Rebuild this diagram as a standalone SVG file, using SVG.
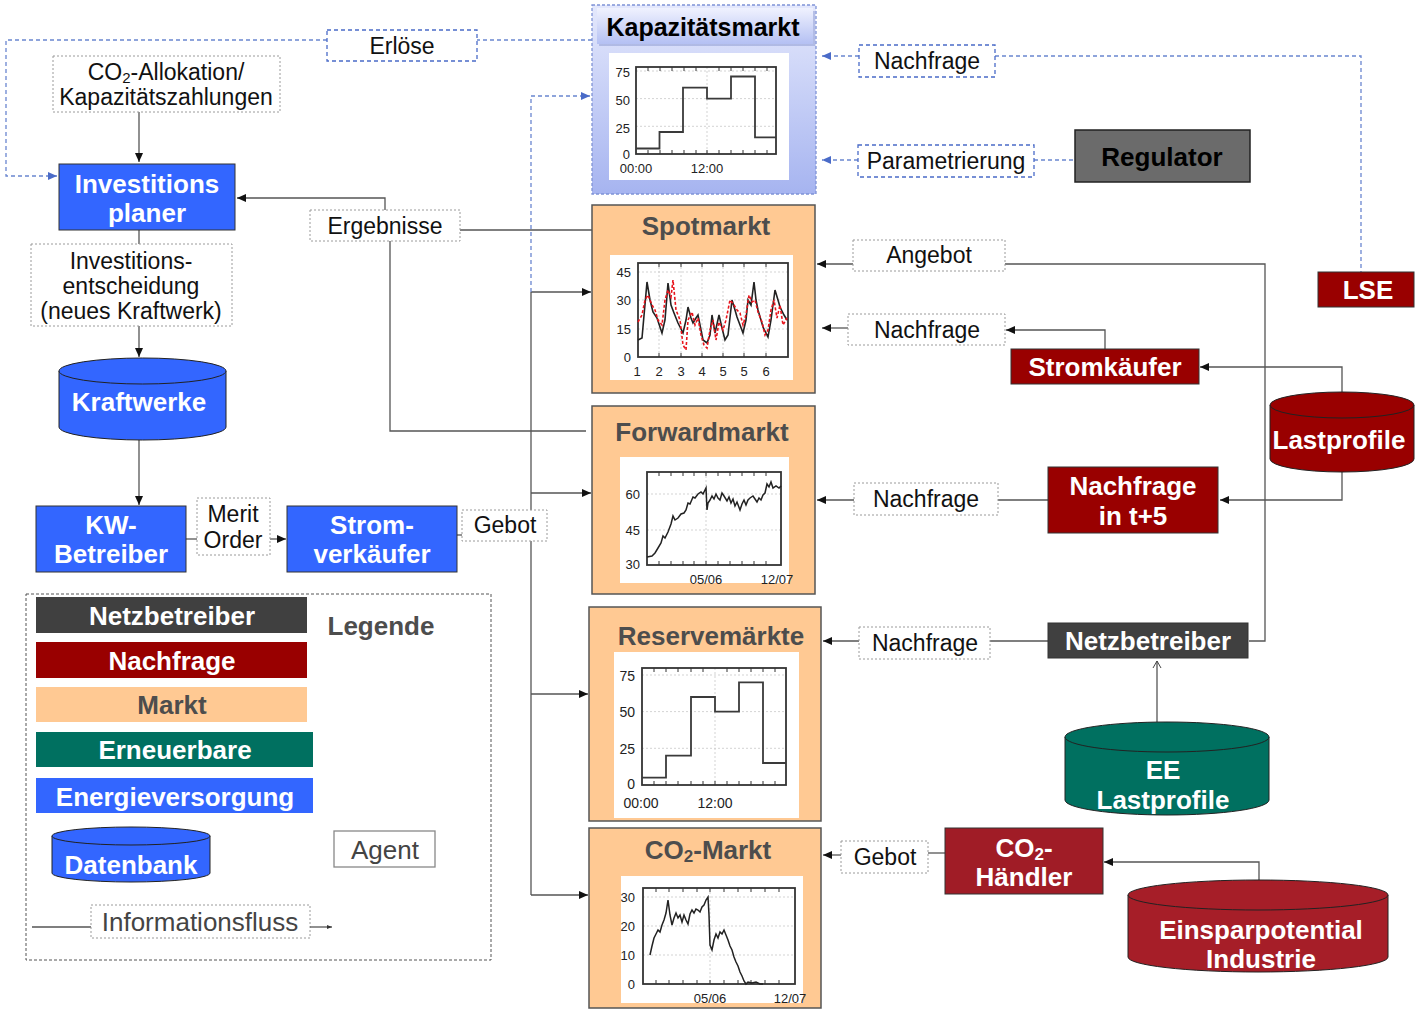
<svg xmlns="http://www.w3.org/2000/svg" width="1415" height="1012" viewBox="0 0 1415 1012">
<defs>
<style>
text{font-family:"Liberation Sans",Arial,sans-serif;text-anchor:middle;dominant-baseline:central}
.t{font-size:23px;fill:#111}
.b{font-size:26px;font-weight:bold;fill:#fff}
.mt{font-size:26px;font-weight:bold;fill:#4d4d4d}
.ax{font-size:13px;fill:#222}
.ax14{font-size:14px;fill:#222}
.lb{fill:#fff;stroke:#9a9a9a;stroke-width:1;stroke-dasharray:2 2}
.bb{fill:#fff;stroke:#4a6bc8;stroke-width:1.3;stroke-dasharray:4 3}
.node{stroke:#333;stroke-width:1}
.mk{fill:#ffc993;stroke:#555;stroke-width:1.5}
.pan{fill:#fff}
.plot{fill:none;stroke:#333;stroke-width:1.8}
.grid{fill:none;stroke:#c8c8c8;stroke-width:0.8;stroke-dasharray:2 2}
.tick{fill:none;stroke:#333;stroke-width:1}
.ln{fill:none;stroke:#3a3a3a;stroke-width:1.8}
.c{fill:none;stroke:#555;stroke-width:1.3}
.cd{fill:none;stroke:#6a86d0;stroke-width:1.3;stroke-dasharray:4 3}
</style>
<marker id="ar" markerUnits="userSpaceOnUse" markerWidth="10" markerHeight="10" refX="9" refY="5" orient="auto"><path d="M0,1 L9,5 L0,9 z" fill="#111"/></marker>
<marker id="ab" markerUnits="userSpaceOnUse" markerWidth="10" markerHeight="10" refX="9" refY="5" orient="auto"><path d="M0,1 L9,5 L0,9 z" fill="#4a6bc8"/></marker>
<marker id="ao" markerUnits="userSpaceOnUse" markerWidth="10" markerHeight="10" refX="8" refY="5" orient="auto"><path d="M1,1 L8,5 L1,9" fill="none" stroke="#444" stroke-width="1"/></marker>
<marker id="as" markerUnits="userSpaceOnUse" markerWidth="6" markerHeight="6" refX="5" refY="3" orient="auto"><path d="M0,1 L5,3 L0,5 z" fill="#333"/></marker>
<linearGradient id="kapbg" x1="0" y1="0" x2="0" y2="1"><stop offset="0" stop-color="#e4e8fc"/><stop offset="1" stop-color="#a6b4f0"/></linearGradient>
<linearGradient id="kaptitle" x1="0" y1="0" x2="0" y2="1"><stop offset="0" stop-color="#f0f2fe"/><stop offset="1" stop-color="#b4c0f3"/></linearGradient>
</defs>

<!-- connectors -->
<g id="connectors">
<path class="c" d="M139,112 V162" marker-end="url(#ar)"/>
<path class="c" d="M139,230 V244"/>
<path class="c" d="M139,326 V357" marker-end="url(#ar)"/>
<path class="c" d="M139,440 V505" marker-end="url(#ar)"/>
<path class="c" d="M186,539 H197"/>
<path class="c" d="M270,539 H286" marker-end="url(#ar)"/>
<path class="c" d="M457,535 H462"/>
<path class="c" d="M531,292 V895"/>
<path class="c" d="M531,292 H591" marker-end="url(#ar)"/>
<path class="c" d="M531,493 H591" marker-end="url(#ar)"/>
<path class="c" d="M531,694 H588" marker-end="url(#ar)"/>
<path class="c" d="M531,895 H588" marker-end="url(#ar)"/>
<path class="cd" d="M531,292 V96 H590" marker-end="url(#ab)"/>
<path class="cd" d="M592,40 H477"/>
<path class="cd" d="M327,40 H6 V176 H57" marker-end="url(#ab)"/>
<path class="c" d="M385,210 V198 H237" marker-end="url(#ar)"/>
<path class="c" d="M460,230 H592"/>
<path class="c" d="M390,241 V431 H586"/>
<path class="cd" d="M859,56 H822" marker-end="url(#ab)"/>
<path class="cd" d="M995,56 H1361 V272"/>
<path class="cd" d="M858,160 H822" marker-end="url(#ab)"/>
<path class="cd" d="M1034,160 H1075"/>
<path class="c" d="M853,264 H817" marker-end="url(#ar)"/>
<path class="c" d="M1005,264 H1265 V641 H1249"/>
<path class="c" d="M848,328 H822" marker-end="url(#ar)"/>
<path class="c" d="M1105,349 V330 H1006" marker-end="url(#ar)"/>
<path class="c" d="M1342,392 V367 H1200" marker-end="url(#ar)"/>
<path class="c" d="M1342,472 V500 H1220" marker-end="url(#ar)"/>
<path class="c" d="M1048,500 H998"/>
<path class="c" d="M854,500 H817" marker-end="url(#ar)"/>
<path class="c" d="M1048,641 H990"/>
<path class="c" d="M859,641 H823" marker-end="url(#ar)"/>
<path class="c" d="M1157,722 V661" marker-end="url(#ao)"/>
<path class="c" d="M945,853 H928"/>
<path class="c" d="M841,855 H823" marker-end="url(#ar)"/>
<path class="c" d="M1259,880 V862 H1104" marker-end="url(#ar)"/>
</g>

<!-- left side -->
<g id="erloese"><rect class="bb" x="327" y="30" width="150" height="31"/><text class="t" x="402" y="46">Erlöse</text></g>
<g id="co2alloc"><rect class="lb" x="53" y="56" width="227" height="56"/>
<text class="t" x="166" y="72">CO<tspan font-size="15" dy="5">2</tspan><tspan dy="-5">-Allokation/</tspan></text>
<text class="t" x="166" y="97">Kapazitätszahlungen</text></g>
<g id="investplaner"><rect class="node" x="59" y="164" width="176" height="66" fill="#3366ff"/>
<text class="b" x="147" y="184">Investitions</text><text class="b" x="147" y="213">planer</text></g>
<g id="ergebnisse"><rect class="lb" x="310" y="210" width="150" height="31"/><text class="t" x="385" y="226">Ergebnisse</text></g>
<g id="entscheidung"><rect class="lb" x="31" y="244" width="201" height="82"/>
<text class="t" x="131" y="261">Investitions-</text><text class="t" x="131" y="286">entscheidung</text><text class="t" x="131" y="311">(neues Kraftwerk)</text></g>
<g id="kraftwerke">
<path d="M59,371 V427 A83.5,13 0 0 0 226,427 V371" fill="#3366ff" stroke="#222" stroke-width="1"/>
<ellipse cx="142.5" cy="371" rx="83.5" ry="13" fill="#3366ff" stroke="#222" stroke-width="1"/>
<text class="b" x="139" y="402">Kraftwerke</text></g>
<g id="kwbetreiber"><rect class="node" x="36" y="506" width="150" height="66" fill="#3366ff"/>
<text class="b" x="111" y="525">KW-</text><text class="b" x="111" y="554">Betreiber</text></g>
<g id="merit"><rect class="lb" x="197" y="498" width="73" height="57"/>
<text class="t" x="233" y="514">Merit</text><text class="t" x="233" y="540">Order</text></g>
<g id="stromverkaeufer"><rect class="node" x="287" y="506" width="170" height="66" fill="#3366ff"/>
<text class="b" x="372" y="525">Strom-</text><text class="b" x="372" y="554">verkäufer</text></g>
<g id="gebot1"><rect class="lb" x="462" y="510" width="85" height="31"/><text class="t" x="505" y="525">Gebot</text></g>

<!-- Kapazitätsmarkt -->
<g id="kapazitaetsmarkt">
<rect x="592" y="5" width="224" height="189" fill="url(#kapbg)" stroke="#7f93d6" stroke-width="1.3" stroke-dasharray="3 2"/>
<rect x="599" y="11" width="216" height="35" fill="#8a98d0" opacity="0.5"/>
<rect x="597" y="8" width="216" height="36" fill="url(#kaptitle)"/>
<text x="703" y="27" style="font-size:25px;font-weight:bold;fill:#000">Kapazitätsmarkt</text>
<rect class="pan" x="609" y="53" width="180" height="127"/>
<path class="grid" d="M636,71 H776 M636,98.6 H776 M636,126.3 H776 M707,67 V154"/>
<path class="tick" d="M648,67 v4 M660,67 v4 M672,67 v4 M684,67 v4 M696,67 v4 M719,67 v4 M731,67 v4 M743,67 v4 M755,67 v4 M767,67 v4 M648,154 v-4 M660,154 v-4 M672,154 v-4 M684,154 v-4 M696,154 v-4 M707,154 v-4 M719,154 v-4 M731,154 v-4 M743,154 v-4 M755,154 v-4 M767,154 v-4"/>
<rect class="plot" x="636" y="67" width="140" height="87"/>
<path class="ln" d="M636,148.5 H659.5 V132 H683 V87.6 H707 V98.6 H731 V76.5 H755 V137.4 H776"/>
<text class="ax" x="630" y="72" style="text-anchor:end">75</text>
<text class="ax" x="630" y="100" style="text-anchor:end">50</text>
<text class="ax" x="630" y="128" style="text-anchor:end">25</text>
<text class="ax" x="630" y="154" style="text-anchor:end">0</text>
<text class="ax" x="636" y="168">00:00</text>
<text class="ax" x="707" y="168">12:00</text>
</g>

<!-- Spotmarkt -->
<g id="spotmarkt">
<rect class="mk" x="592" y="205" width="223" height="188"/>
<text class="mt" x="706" y="226">Spotmarkt</text>
<rect class="pan" x="610" y="255" width="183" height="125"/>
<path class="grid" d="M638,272 H788 M638,300 H788 M638,329 H788 M659,263 V357 M681,263 V357 M702,263 V357 M723,263 V357 M744,263 V357 M766,263 V357"/>
<path class="tick" d="M659,263 v4 M681,263 v4 M702,263 v4 M723,263 v4 M744,263 v4 M766,263 v4 M659,357 v-4 M681,357 v-4 M702,357 v-4 M723,357 v-4 M744,357 v-4 M766,357 v-4"/>
<rect class="plot" x="638" y="263" width="150" height="94"/>
<polyline fill="none" stroke="#222" stroke-width="1.6" points="638,340 642,338 647,282 650,300 653,312 657,318 662,333 665,320 668,283 671,305 674,313 678,323 683,333 686,320 688,307 691,318 693,323 696,318 698,315 701,330 703,340 707,343 710,335 712,315 715,333 719,315 722,328 725,340 728,335 732,300 735,310 737,317 740,325 743,333 746,320 748,300 751,305 754,282 756,300 758,310 763,327 768,337 771,320 775,290 778,300 780,307 784,315 787,320"/>
<polyline fill="none" stroke="#e8141c" stroke-width="1.6" stroke-dasharray="3 2" points="638,322 642,315 645,300 648,295 652,305 655,310 658,320 662,325 665,300 668,290 671,297 673,280 676,310 680,320 683,345 686,350 688,320 692,312 695,325 698,318 701,335 704,345 707,348 710,330 713,320 716,340 719,322 723,330 726,320 730,300 734,305 737,310 740,313 743,325 746,315 749,295 752,302 755,300 758,312 762,322 765,335 768,330 771,310 774,300 777,318 780,305 783,325 787,318"/>
<text class="ax" x="631" y="272" style="text-anchor:end">45</text>
<text class="ax" x="631" y="300" style="text-anchor:end">30</text>
<text class="ax" x="631" y="329" style="text-anchor:end">15</text>
<text class="ax" x="631" y="357" style="text-anchor:end">0</text>
<text class="ax" x="637" y="371">1</text><text class="ax" x="659" y="371">2</text><text class="ax" x="681" y="371">3</text><text class="ax" x="702" y="371">4</text><text class="ax" x="723" y="371">5</text><text class="ax" x="744" y="371">5</text><text class="ax" x="766" y="371">6</text>
</g>

<!-- Forwardmarkt -->
<g id="forwardmarkt">
<rect class="mk" x="592" y="406" width="223" height="188"/>
<text class="mt" x="702" y="432">Forwardmarkt</text>
<rect class="pan" x="620" y="457" width="169" height="126"/>
<path class="grid" d="M647,494 H781 M647,530 H781 M706,472 V565"/>
<path class="tick" d="M659,472 v4 M671,472 v4 M683,472 v4 M694,472 v4 M706,472 v4 M718,472 v4 M730,472 v4 M742,472 v4 M754,472 v4 M766,472 v4 M659,565 v-4 M671,565 v-4 M683,565 v-4 M694,565 v-4 M706,565 v-4 M718,565 v-4 M730,565 v-4 M742,565 v-4 M754,565 v-4 M766,565 v-4"/>
<rect class="plot" x="647" y="472" width="134" height="93"/>
<polyline fill="none" stroke="#222" stroke-width="1.5" points="647,557 652,556 655,553 658,548 661,543 663,536 665,538 668,532 671,524 673,516 675,520 678,518 681,514 684,513 686,510 688,503 690,504 693,497 695,498 698,494 701,492 703,494 706,488 707,510 708,503 710,500 712,496 714,499 716,494 718,498 720,500 722,493 724,496 727,501 729,497 731,503 733,499 735,506 737,502 740,510 742,504 744,500 746,505 748,500 750,498 753,496 755,499 757,502 759,498 761,500 763,495 765,493 767,484 769,487 771,482 773,488 776,486 779,488 781,486"/>
<text class="ax" x="640" y="494" style="text-anchor:end">60</text>
<text class="ax" x="640" y="530" style="text-anchor:end">45</text>
<text class="ax" x="640" y="564" style="text-anchor:end">30</text>
<text class="ax" x="706" y="579">05/06</text>
<text class="ax" x="777" y="579">12/07</text>
</g>

<!-- Reservemärkte -->
<g id="reservemaerkte">
<rect class="mk" x="589" y="607" width="232" height="214"/>
<text class="mt" x="711" y="636">Reservemärkte</text>
<rect class="pan" x="614" y="652" width="185" height="166"/>
<path class="grid" d="M642,675 H786 M642,711.6 H786 M642,748.3 H786 M715,668 V785"/>
<path class="tick" d="M654,668 v4 M666,668 v4 M678,668 v4 M691,668 v4 M703,668 v4 M727,668 v4 M739,668 v4 M751,668 v4 M763,668 v4 M775,668 v4 M654,785 v-4 M666,785 v-4 M678,785 v-4 M691,785 v-4 M703,785 v-4 M715,785 v-4 M727,785 v-4 M739,785 v-4 M751,785 v-4 M763,785 v-4 M775,785 v-4"/>
<rect class="plot" x="642" y="668" width="144" height="117"/>
<path class="ln" d="M642,777.7 H666 V755.7 H691 V697 H715 V711.6 H739 V682.3 H763 V763 H786"/>
<text class="ax14" x="635" y="676" style="text-anchor:end">75</text>
<text class="ax14" x="635" y="712" style="text-anchor:end">50</text>
<text class="ax14" x="635" y="749" style="text-anchor:end">25</text>
<text class="ax14" x="635" y="784" style="text-anchor:end">0</text>
<text class="ax14" x="641" y="803">00:00</text>
<text class="ax14" x="715" y="803">12:00</text>
</g>

<!-- CO2-Markt -->
<g id="co2markt">
<rect class="mk" x="589" y="828" width="232" height="180"/>
<text class="mt" x="708" y="850">CO<tspan font-size="17" dy="6">2</tspan><tspan dy="-6">-Markt</tspan></text>
<rect class="pan" x="621" y="876" width="182" height="127"/>
<path class="grid" d="M643,897 H795 M643,926 H795 M643,955 H795 M710,888 V984"/>
<path class="tick" d="M656,888 v4 M669,888 v4 M683,888 v4 M697,888 v4 M710,888 v4 M724,888 v4 M738,888 v4 M751,888 v4 M765,888 v4 M779,888 v4 M656,984 v-4 M669,984 v-4 M683,984 v-4 M697,984 v-4 M710,984 v-4 M724,984 v-4 M738,984 v-4 M751,984 v-4 M765,984 v-4 M779,984 v-4"/>
<rect class="plot" x="643" y="888" width="152" height="96"/>
<polyline fill="none" stroke="#222" stroke-width="1.5" points="650,955 652,946 654,938 656,934 658,930 660,932 662,925 664,920 666,913 668,900 670,915 672,925 674,918 676,913 678,918 680,915 682,922 684,915 686,920 688,924 690,914 692,910 694,913 696,909 698,910 700,912 702,907 704,905 706,900 708,897 709,915 710,945 712,950 714,940 716,934 718,938 720,932 722,934 724,930 726,935 728,940 730,946 732,950 734,957 736,962 738,966 740,972 742,976 744,981 746,984 748,982 752,983 756,982 760,984 763,984"/>
<text class="ax" x="635" y="897" style="text-anchor:end">30</text>
<text class="ax" x="635" y="926" style="text-anchor:end">20</text>
<text class="ax" x="635" y="955" style="text-anchor:end">10</text>
<text class="ax" x="635" y="984" style="text-anchor:end">0</text>
<text class="ax" x="710" y="998">05/06</text>
<text class="ax" x="790" y="998">12/07</text>
</g>

<!-- right side -->
<g id="nachfrage-kap"><rect class="bb" x="859" y="45" width="136" height="32"/><text class="t" x="927" y="61">Nachfrage</text></g>
<g id="parametrierung"><rect class="bb" x="858" y="145" width="176" height="32"/><text class="t" x="946" y="161">Parametrierung</text></g>
<g id="regulator"><rect x="1075" y="130" width="175" height="52" fill="#6b6b6b" stroke="#222" stroke-width="1.5"/><text x="1162" y="157" style="font-size:26px;font-weight:bold;fill:#000">Regulator</text></g>
<g id="lse"><rect class="node" x="1318" y="272" width="96" height="35" fill="#990000"/><text class="b" x="1368" y="290">LSE</text></g>
<g id="angebot"><rect class="lb" x="853" y="240" width="152" height="31"/><text class="t" x="929" y="255">Angebot</text></g>
<g id="nachfrage-spot"><rect class="lb" x="848" y="314" width="157" height="31"/><text class="t" x="927" y="330">Nachfrage</text></g>
<g id="stromkaeufer"><rect class="node" x="1011" y="349" width="188" height="35" fill="#990000"/><text class="b" x="1105" y="367">Stromkäufer</text></g>
<g id="lastprofile">
<path d="M1270,405 V459 A72,13 0 0 0 1414,459 V405" fill="#990000" stroke="#222" stroke-width="1"/>
<ellipse cx="1342" cy="405" rx="72" ry="13" fill="#990000" stroke="#222" stroke-width="1"/>
<text class="b" x="1339" y="440">Lastprofile</text></g>
<g id="nachfrage-t5"><rect class="node" x="1048" y="467" width="170" height="66" fill="#990000"/>
<text class="b" x="1133" y="486">Nachfrage</text><text class="b" x="1133" y="516">in t+5</text></g>
<g id="nachfrage-fwd"><rect class="lb" x="854" y="483" width="144" height="32"/><text class="t" x="926" y="499">Nachfrage</text></g>
<g id="netzbetreiber"><rect class="node" x="1048" y="623" width="200" height="35" fill="#404040"/><text class="b" x="1148" y="641">Netzbetreiber</text></g>
<g id="nachfrage-res"><rect class="lb" x="859" y="627" width="131" height="32"/><text class="t" x="925" y="643">Nachfrage</text></g>
<g id="ee-lastprofile">
<path d="M1065,737 V800 A102,15 0 0 0 1269,800 V737" fill="#007060" stroke="#222" stroke-width="1"/>
<ellipse cx="1167" cy="737" rx="102" ry="15" fill="#007060" stroke="#222" stroke-width="1"/>
<text class="b" x="1163" y="770">EE</text><text class="b" x="1163" y="800">Lastprofile</text></g>
<g id="gebot-co2"><rect class="lb" x="841" y="841" width="87" height="32"/><text class="t" x="885" y="857">Gebot</text></g>
<g id="co2haendler"><rect class="node" x="945" y="828" width="158" height="66" fill="#a01c26"/>
<text class="b" x="1024" y="848">CO<tspan font-size="17" dy="6">2</tspan><tspan dy="-6">-</tspan></text><text class="b" x="1024" y="877">Händler</text></g>
<g id="einsparpotential">
<path d="M1128,895 V957 A130,15 0 0 0 1388,957 V895" fill="#a61e28" stroke="#222" stroke-width="1"/>
<ellipse cx="1258" cy="895" rx="130" ry="15" fill="#a61e28" stroke="#222" stroke-width="1"/>
<text class="b" x="1261" y="930">Einsparpotential</text><text class="b" x="1261" y="959">Industrie</text></g>

<!-- legend -->
<g id="legende">
<rect x="26" y="594" width="465" height="366" fill="none" stroke="#555" stroke-width="1" stroke-dasharray="3 2"/>
<rect x="36" y="597" width="271" height="36" fill="#404040"/><text class="b" x="172" y="616">Netzbetreiber</text>
<rect x="36" y="642" width="271" height="36" fill="#990000"/><text class="b" x="172" y="661">Nachfrage</text>
<rect x="36" y="687" width="271" height="35" fill="#ffc993"/><text class="mt" x="172" y="705">Markt</text>
<rect x="36" y="732" width="277" height="35" fill="#007060"/><text class="b" x="175" y="750">Erneuerbare</text>
<rect x="36" y="778" width="277" height="35" fill="#3366ff"/><text class="b" x="175" y="797">Energieversorgung</text>
<path d="M52,836 V873 A79,9 0 0 0 210,873 V836" fill="#3366ff" stroke="#222" stroke-width="1"/>
<ellipse cx="131" cy="836" rx="79" ry="9" fill="#3366ff" stroke="#222" stroke-width="1"/>
<text class="b" x="131" y="865">Datenbank</text>
<text class="mt" x="381" y="626">Legende</text>
<rect x="334" y="831" width="101" height="36" fill="#fff" stroke="#888" stroke-width="1.3"/>
<text x="385" y="850" style="font-size:26px;fill:#444">Agent</text>
<path class="c" d="M32,927 H91"/>
<rect class="lb" x="91" y="905" width="219" height="33"/>
<text x="200" y="922" style="font-size:26px;fill:#444">Informationsfluss</text>
<path class="c" d="M310,927 H332" marker-end="url(#as)"/>
</g>
</svg>
